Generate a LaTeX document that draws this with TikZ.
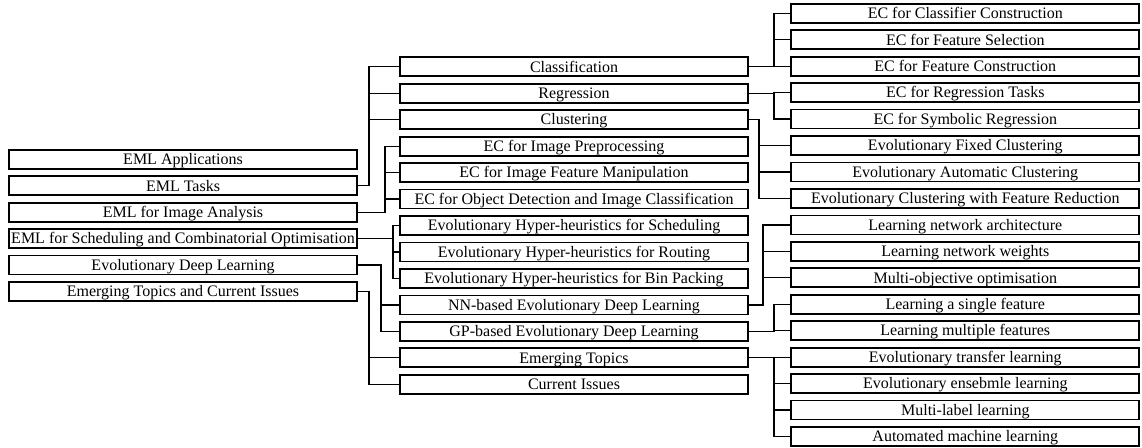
\documentclass[tikz,border=0pt]{standalone}
\usepackage{fontspec}
\setmainfont{Liberation Serif}

\begin{document}
\begin{tikzpicture}[x=0.75pt, y=-0.75pt,
    box/.style={draw, line width=1.3pt, minimum width=261pt, minimum height=14.25pt,
                inner sep=0pt, text height=7.9pt, text depth=0pt,
                font=\fontsize{12pt}{14pt}\selectfont},
    link/.style={line width=1pt}]

    \useasboundingbox (0,0) rectangle (1142,447);

    \node[box] (apps)   at (183,159.3) {EML Applications};
    \node[box] (tasks)  at (183,185.8) {EML Tasks};
    \node[box] (image)  at (183,212.2) {EML for Image Analysis};
    \node[box] (sched)  at (183,238.7) {EML for Scheduling and Combinatorial Optimisation};
    \node[box] (edl)    at (183,265.1) {Evolutionary Deep Learning};
    \node[box] (emerg)  at (183,291.6) {Emerging Topics and Current Issues};

    \node[box] (cls)      at (574,66.8)  {Classification};
    \node[box] (reg)      at (574,93.3)  {Regression};
    \node[box] (clu)      at (574,119.7) {Clustering};
    \node[box] (imgpre)   at (574,146.2) {EC for Image Preprocessing};
    \node[box] (imgfeat)  at (574,172.6) {EC for Image Feature Manipulation};
    \node[box] (objdet)   at (574,199.1) {EC for Object Detection and Image Classification};
    \node[box] (hhsched)  at (574,225.5) {Evolutionary Hyper-heuristics for Scheduling};
    \node[box] (hhroute)  at (574,252.0) {Evolutionary Hyper-heuristics for Routing};
    \node[box] (hhbin)    at (574,278.4) {Evolutionary Hyper-heuristics for Bin Packing};
    \node[box] (nnedl)    at (574,304.9) {NN-based Evolutionary Deep Learning};
    \node[box] (gpedl)    at (574,331.3) {GP-based Evolutionary Deep Learning};
    \node[box] (etopics)  at (574,357.8) {Emerging Topics};
    \node[box] (cissues)  at (574,384.2) {Current Issues};

    \node[box] (ccc)      at (965.3,13.3)  {EC for Classifier Construction};
    \node[box] (fsel)     at (965.3,39.8)  {EC for Feature Selection};
    \node[box] (fcon)     at (965.3,66.2)  {EC for Feature Construction};
    \node[box] (regt)     at (965.3,92.7)  {EC for Regression Tasks};
    \node[box] (symreg)   at (965.3,119.1) {EC for Symbolic Regression};
    \node[box] (fixclu)   at (965.3,145.6) {Evolutionary Fixed Clustering};
    \node[box] (autoclu)  at (965.3,172.0) {Evolutionary Automatic Clustering};
    \node[box] (fredclu)  at (965.3,198.5) {Evolutionary Clustering with Feature Reduction};
    \node[box] (netarch)  at (965.3,224.9) {Learning network architecture};
    \node[box] (netw)     at (965.3,251.4) {Learning network weights};
    \node[box] (mobj)     at (965.3,277.8) {Multi-objective optimisation};
    \node[box] (single)   at (965.3,304.3) {Learning a single feature};
    \node[box] (multi)    at (965.3,330.7) {Learning multiple features};
    \node[box] (transfer) at (965.3,357.2) {Evolutionary transfer learning};
    \node[box] (ensemble) at (965.3,383.6) {Evolutionary ensebmle learning};
    \node[box] (mlabel)   at (965.3,410.1) {Multi-label learning};
    \node[box] (automl)   at (965.3,436.5) {Automated machine learning};

    \draw[link] (tasks.east) -- +(11,0) |- (cls.west);
    \draw[link] (tasks.east) -- +(11,0) |- (reg.west);
    \draw[link] (tasks.east) -- +(11,0) |- (clu.west);

    \draw[link] (image.east) -- +(27,0) |- (imgpre.west);
    \draw[link] (image.east) -- +(27,0) |- (imgfeat.west);
    \draw[link] (image.east) -- +(27,0) |- (objdet.west);

    \draw[link] (sched.east) -- +(35,0) |- (hhsched.west);
    \draw[link] (sched.east) -- +(35,0) |- (hhroute.west);
    \draw[link] (sched.east) -- +(35,0) |- (hhbin.west);

    \draw[link] (edl.east) -- +(23,0) |- (nnedl.west);
    \draw[link] (edl.east) -- +(23,0) |- (gpedl.west);

    \draw[link] (emerg.east) -- +(11,0) |- (etopics.west);
    \draw[link] (emerg.east) -- +(11,0) |- (cissues.west);

    \draw[link] (cls.east) -- +(25,0) |- (ccc.west);
    \draw[link] (cls.east) -- +(25,0) |- (fsel.west);
    \draw[link] (cls.east) -- +(25,0) |- (fcon.west);

    \draw[link] (reg.east) -- +(25,0) |- (regt.west);
    \draw[link] (reg.east) -- +(25,0) |- (symreg.west);

    \draw[link] (clu.east) -- +(10,0) |- (fixclu.west);
    \draw[link] (clu.east) -- +(10,0) |- (autoclu.west);
    \draw[link] (clu.east) -- +(10,0) |- (fredclu.west);

    \draw[link] (nnedl.east) -- +(14,0) |- (netarch.west);
    \draw[link] (nnedl.east) -- +(14,0) |- (netw.west);
    \draw[link] (nnedl.east) -- +(14,0) |- (mobj.west);

    \draw[link] (gpedl.east) -- +(25,0) |- (single.west);
    \draw[link] (gpedl.east) -- +(25,0) |- (multi.west);

    \draw[link] (etopics.east) -- +(25,0) |- (transfer.west);
    \draw[link] (etopics.east) -- +(25,0) |- (ensemble.west);
    \draw[link] (etopics.east) -- +(25,0) |- (mlabel.west);
    \draw[link] (etopics.east) -- +(25,0) |- (automl.west);

\end{tikzpicture}
\end{document}
